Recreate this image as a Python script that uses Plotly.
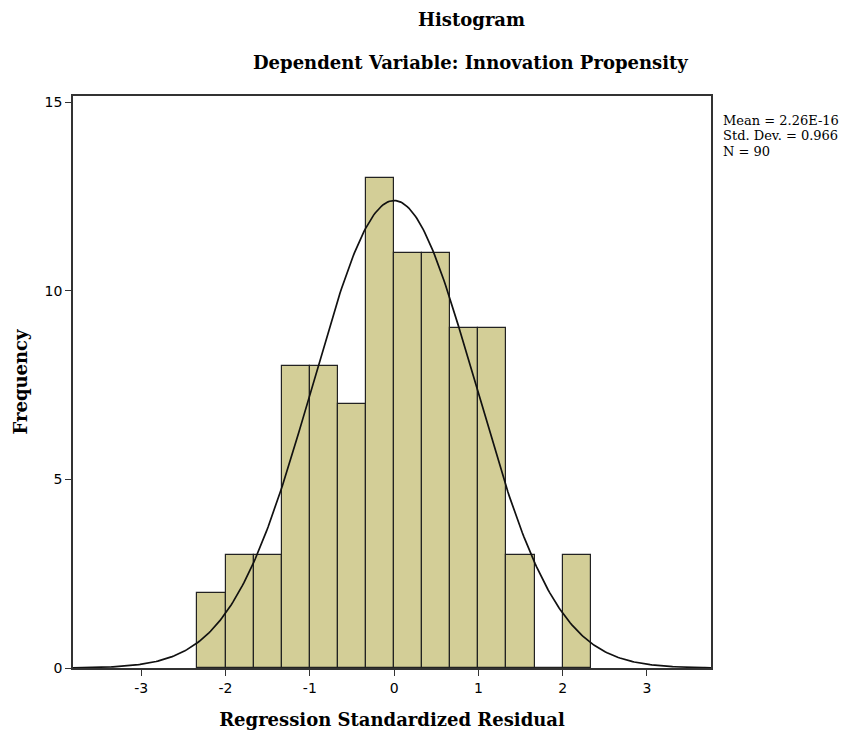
import numpy as np
import plotly.graph_objects as go

# Histogram of regression standardized residuals
bin_start = -7 / 3
bin_width = 1 / 3
counts = [2, 3, 3, 8, 8, 7, 13, 11, 11, 9, 9, 3, 0, 3]

mean = 2.26e-16
std_dev = 0.966
n_obs = 90

x_ticks = [-3, -2, -1, 0, 1, 2, 3]
x_tick_text = ["-3", "-2", "-1", "0", "1", "2", "3"]
y_ticks = [0, 5, 10, 15]

stats_lines = ["Mean = 2.26E-16", f"Std. Dev. = {std_dev}", f"N = {n_obs}"]

centers = [bin_start + bin_width * (i + 0.5) for i in range(len(counts))]

# Normal curve scaled to the histogram (N * bin width * pdf)
xr = (-3.81, 3.76)
xs = np.linspace(xr[0], xr[1], 400)
ys = n_obs * bin_width * np.exp(-0.5 * ((xs - mean) / std_dev) ** 2) / (std_dev * np.sqrt(2 * np.pi))

serif = "DejaVu Serif, serif"
sans = "DejaVu Sans, sans-serif"

fig = go.Figure()
fig.add_trace(go.Bar(
    x=centers, y=counts, width=bin_width,
    marker=dict(color="#d3ce97", line=dict(color="#222222", width=1.2)),
    hoverinfo="x+y",
))
fig.add_trace(go.Scatter(
    x=xs, y=ys, mode="lines",
    line=dict(color="#111111", width=1.7),
    hoverinfo="skip",
))

annotations = [
    dict(text="<b>Histogram</b>", xref="paper", yref="paper",
         x=(471 - 73) / 638, y=1 + (96 - 20) / 572,
         xanchor="center", yanchor="middle", showarrow=False,
         font=dict(family=serif, size=18)),
    dict(text="<b>Dependent Variable: Innovation Propensity</b>", xref="paper", yref="paper",
         x=(470 - 73) / 638, y=1 + (96 - 62) / 572,
         xanchor="center", yanchor="middle", showarrow=False,
         font=dict(family=serif, size=18)),
]
for i, line in enumerate(stats_lines):
    annotations.append(dict(
        text=line, xref="paper", yref="paper",
        x=(721 - 73) / 638, y=(668 - (120 + 15.5 * i)) / 572,
        xanchor="left", yanchor="middle", align="left", showarrow=False,
        font=dict(family=serif, size=13)))

fig.update_layout(
    width=852, height=738,
    margin=dict(l=73, r=141, t=96, b=70),
    paper_bgcolor="white", plot_bgcolor="white",
    showlegend=False, bargap=0,
    font=dict(family=serif, color="black", size=14),
    xaxis=dict(
        range=list(xr), tickvals=x_ticks, ticktext=x_tick_text,
        ticks="outside", ticklen=6,
        tickcolor="#333", showline=True, linecolor="#333", linewidth=1.5,
        mirror=True, showgrid=False, zeroline=False,
        tickfont=dict(family=sans, size=14),
        title=dict(text="<b>Regression Standardized Residual</b>",
                   font=dict(family=serif, size=18), standoff=19),
    ),
    yaxis=dict(
        range=[0, 15.16], tickvals=y_ticks, ticks="outside", ticklen=6,
        tickcolor="#333", showline=True, linecolor="#333", linewidth=1.5,
        mirror=True, showgrid=False, zeroline=False,
        tickfont=dict(family=sans, size=14),
        title=dict(text="<b>Frequency</b>",
                   font=dict(family=serif, size=18), standoff=12),
    ),
    annotations=annotations,
)

fig.write_html("out.html")
